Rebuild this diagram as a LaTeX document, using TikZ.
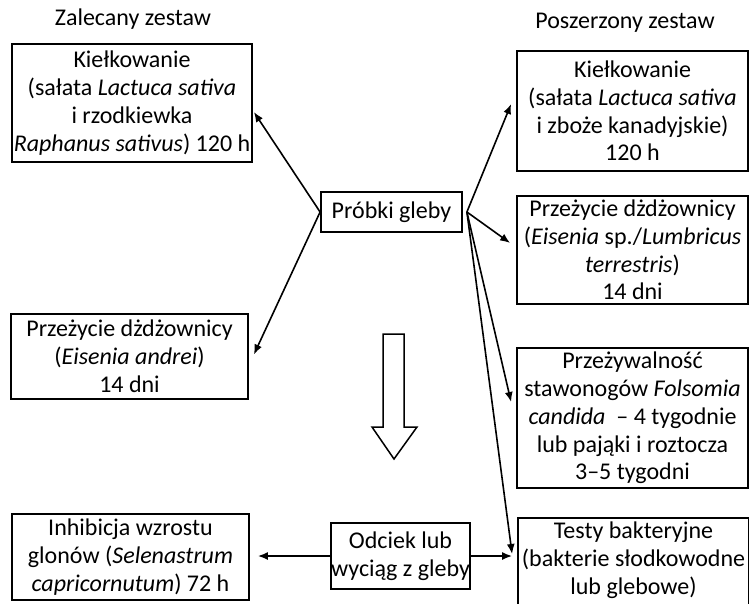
\documentclass[tikz,border=0pt]{standalone}
\usepackage{fontspec}
\setmainfont{Carlito}
\usetikzlibrary{arrows.meta,calc}
\newcommand\diagfont{\fontsize{24}{27.8}\selectfont}

\begin{document}
\begin{tikzpicture}[x=1pt,y=-1pt,
  box/.style={draw,line width=1.8pt,align=center,inner sep=0pt,font=\diagfont},
  lbl/.style={align=center,inner sep=0pt,font=\diagfont},
  link/.style={line width=1.6pt,-{Latex[length=10pt,width=8pt]}}]
\clip (0,0) rectangle (749,604);

% column headings
\node[lbl] (t1) at (133,19) {Zalecany zestaw};
\node[lbl] (t2) at (625,23) {Poszerzony zestaw};

% left column
\node[box, minimum width=240pt, minimum height=118pt] (l1) at (132,103)
  {Kiełkowanie\\(sałata \textit{Lactuca sativa}\\i rzodkiewka\\\textit{Raphanus sativus}) 120 h};
\node[box, minimum width=237pt, minimum height=85pt] (l2) at (129.5,356.5)
  {Przeżycie dżdżownicy\\(\textit{Eisenia andrei})\\14 dni};
\node[box, minimum width=237pt, minimum height=86pt] (inh) at (130.5,557)
  {Inhibicja wzrostu\\glonów (\textit{Selenastrum}\\\textit{capricornutum}) 72 h};

% centre
\node[box, minimum width=141pt, minimum height=40pt] (probki) at (391.5,212) {Próbki gleby};
\node[box, minimum width=139pt, minimum height=66pt] (odciek) at (400.5,556)
  {Odciek lub\\wyciąg z gleby};

% right column
\node[box, minimum width=231pt, minimum height=120pt] (r1) at (632.5,111)
  {Kiełkowanie\\(sałata \textit{Lactuca sativa}\\i zboże kanadyjskie)\\120 h};
\node[box, minimum width=231pt, minimum height=108pt] (r2) at (632.5,250)
  {Przeżycie dżdżownicy\\(\textit{Eisenia} sp./\textit{Lumbricus}\\\textit{terrestris})\\14 dni};
\node[box, minimum width=231pt, minimum height=140pt] (r3) at (632.5,418)
  {Przeżywalność\\stawonogów \textit{Folsomia}\\\textit{candida}\ \ – 4 tygodnie\\lub pająki i roztocza\\3–5 tygodni};
\node[draw, line width=1.8pt, inner sep=0pt, minimum width=231pt, minimum height=110pt] (testy) at (633.5,573) {};
\node[lbl] (testytxt) at (633.5,560) {Testy bakteryjne\\(bakterie słodkowodne\\lub glebowe)};

% hollow block arrow
\draw[line width=1.5pt, line join=miter] (383,334) -- (404,334) -- (404,427) -- (417,427)
  -- (394,459) -- (372,427) -- (383,427) -- cycle;

% connectors
\draw[link] (probki.west) -- ($(l1.east)+(1,9)$);
\draw[link] (probki.west) -- ($(l2.east)+(5,-2)$);
\coordinate (fan) at ($(probki.east)+(4,0)$);
\draw[link] (fan) -- ($(r1.west)+(-5,-7)$);
\draw[link] (fan) -- ($(r2.west)+(-6,-7)$);
\draw[link] (fan) -- ($(r3.west)+(-5,-16)$);
\draw[link] (fan) -- ($(testy.west |- odciek.east)+(-5,-2)$);
\draw[link] (odciek.west) -- ($(inh.east |- odciek.west)+(8,0)$);
\draw[link] (odciek.east) -- ($(testy.west |- odciek.east)+(-5,0)$);
\end{tikzpicture}
\end{document}
